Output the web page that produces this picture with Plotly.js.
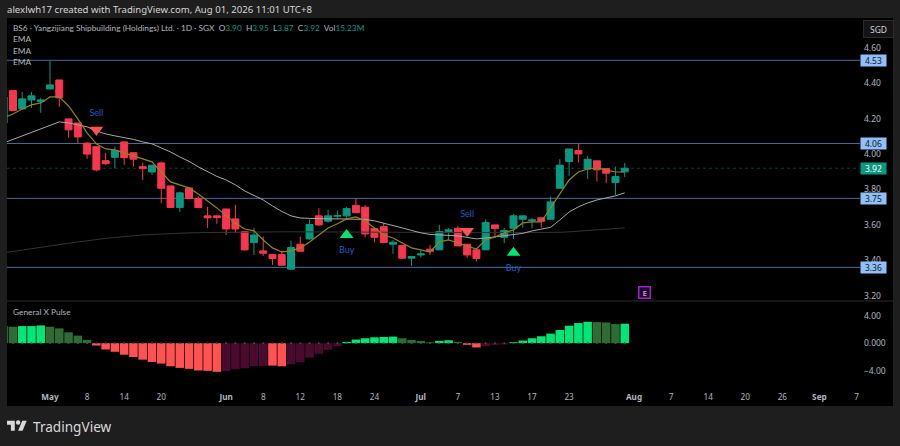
<!DOCTYPE html>
<html><head><meta charset="utf-8">
<script src="https://cdn.plot.ly/plotly-3.0.1.min.js"></script>
<style>html,body{margin:0;padding:0;background:#1e1e1e}#c{width:900px;height:446px}</style>
</head><body><div id="c"></div>
<script>
const open=[4.176,4.359,4.255,4.306,4.297,4.368,4.419,4.199,4.176,4.062,4.042,3.963,3.982,4.069,4.008,3.929,3.899,3.95,3.82,3.698,3.809,3.749,3.651,3.651,3.69,3.634,3.562,3.5,3.453,3.432,3.432,3.35,3.491,3.521,3.651,3.621,3.649,3.651,3.711,3.7,3.579,3.59,3.491,3.483,3.412,3.43,3.463,3.459,3.562,3.581,3.491,3.459,3.459,3.6,3.53,3.581,3.632,3.623,3.64,3.632,3.807,3.958,4.02,3.916,3.962,3.918,3.839,3.90];
const high=[4.323,4.359,4.351,4.351,4.318,4.527,4.419,4.199,4.176,4.069,4.042,4.007,4.042,4.069,4.008,3.952,3.939,3.958,3.82,3.788,3.809,3.76,3.702,3.651,3.69,3.713,3.562,3.583,3.534,3.436,3.455,3.511,3.534,3.632,3.694,3.685,3.681,3.702,3.751,3.713,3.579,3.61,3.515,3.483,3.425,3.459,3.487,3.6,3.583,3.594,3.491,3.47,3.632,3.6,3.583,3.662,3.651,3.638,3.64,3.76,3.971,4.029,4.058,3.99,3.962,3.918,3.929,3.95];
const low=[4.15,4.246,4.255,4.261,4.233,4.368,4.267,4.092,4.063,3.973,3.901,3.939,3.92,3.939,3.929,3.854,3.882,3.723,3.698,3.673,3.745,3.698,3.583,3.606,3.543,3.555,3.453,3.43,3.425,3.374,3.368,3.346,3.451,3.515,3.596,3.613,3.632,3.638,3.666,3.53,3.502,3.5,3.436,3.408,3.368,3.417,3.43,3.459,3.515,3.481,3.412,3.393,3.459,3.525,3.497,3.521,3.585,3.581,3.585,3.632,3.807,3.877,3.952,3.86,3.845,3.836,3.769,3.87];
const close=[4.323,4.246,4.312,4.329,4.306,4.391,4.318,4.137,4.097,4.0,3.911,3.946,4.02,3.98,3.971,3.918,3.937,3.807,3.698,3.781,3.749,3.698,3.64,3.641,3.577,3.577,3.459,3.543,3.44,3.41,3.372,3.472,3.451,3.602,3.6,3.651,3.653,3.692,3.669,3.549,3.53,3.5,3.502,3.412,3.421,3.436,3.451,3.562,3.572,3.481,3.43,3.41,3.613,3.579,3.568,3.651,3.651,3.628,3.621,3.73,3.937,4.029,4.001,3.971,3.911,3.892,3.873,3.92];
const emaFast=[4.205,4.227,4.255,4.278,4.289,4.323,4.323,4.272,4.199,4.12,4.058,4.029,4.024,4.007,3.99,3.973,3.956,3.899,3.843,3.826,3.809,3.775,3.736,3.696,3.651,3.611,3.577,3.566,3.515,3.47,3.447,3.453,3.47,3.504,3.543,3.583,3.606,3.634,3.645,3.623,3.583,3.543,3.526,3.498,3.47,3.459,3.447,3.504,3.515,3.498,3.481,3.464,3.515,3.532,3.555,3.572,3.611,3.617,3.617,3.696,3.769,3.854,3.899,3.916,3.922,3.911,3.899,3.899];
const emaMid=[4.063,4.083,4.103,4.12,4.142,4.159,4.182,4.176,4.165,4.154,4.131,4.114,4.103,4.094,4.083,4.069,4.058,4.035,4.012,3.984,3.959,3.928,3.899,3.874,3.854,3.826,3.792,3.767,3.741,3.707,3.676,3.651,3.639,3.637,3.634,3.634,3.634,3.634,3.634,3.631,3.623,3.611,3.597,3.583,3.569,3.555,3.546,3.543,3.543,3.538,3.529,3.521,3.526,3.532,3.541,3.546,3.552,3.566,3.574,3.586,3.628,3.673,3.702,3.724,3.741,3.752,3.764,3.781];
const emaSlow=[3.442,3.45,3.459,3.467,3.476,3.481,3.49,3.498,3.504,3.51,3.518,3.524,3.529,3.535,3.541,3.543,3.546,3.549,3.552,3.554,3.555,3.556,3.557,3.558,3.559,3.56,3.56,3.56,3.561,3.561,3.561,3.561,3.561,3.561,3.561,3.561,3.56,3.56,3.56,3.56,3.56,3.56,3.559,3.559,3.559,3.558,3.558,3.557,3.557,3.557,3.556,3.556,3.556,3.555,3.555,3.555,3.556,3.556,3.556,3.557,3.558,3.561,3.564,3.567,3.571,3.575,3.579,3.583];
const pulse=[2.49,2.4,2.49,2.49,2.59,2.4,2.16,1.58,1.1,0.48,-0.34,-0.91,-1.25,-1.68,-2.01,-2.4,-2.73,-2.97,-3.36,-3.6,-3.74,-3.98,-4.03,-4.17,-4.03,-3.79,-3.65,-3.36,-3.31,-3.26,-3.36,-3.07,-2.78,-2.11,-1.53,-0.96,-0.43,0.19,0.53,0.72,0.86,0.91,0.96,0.72,0.48,0.34,0.14,0.34,0.43,0.19,-0.24,-0.62,-0.43,-0.24,-0.19,0.14,0.38,0.72,1.01,1.39,1.92,2.54,2.93,3.12,3.07,3.02,2.78,2.83];
const pulseState="ddbbbdddddrrrrrrrrrrrrrrmmmmmrrmmmmmmbbbbbbddddbbdrrmmmbbbbbbbbbdddb".split("");
const levels=[4.53,4.06,3.75,3.36];
const lastPrice=3.92;
const priceTicks=[4.6,4.4,4.2,4.0,3.8,3.6,3.4,3.2];
const pulseTicks=[4,0,-4];
const pulseTickText=["4.00","0.000","\u22124.00"];
const timeTicks=[0,4,8,12,19,23,27,31,35,40,44,48,52,56,63,67,71,75,79,83,87];
const timeLabels=["<b>May</b>","8","14","20","<b>Jun</b>","8","12","18","24","<b>Jul</b>","7","13","17","23","<b>Aug</b>","7","14","20","26","<b>Sep</b>","7"];
const sellX=[5,45], sellPrice=[4.137,3.566], sellLabelPrice=[4.227,3.656];
const buyX=[32,50], buyPrice=[3.543,3.442], buyLabelPrice=[3.453,3.351];
const barIndex=open.map((_,k)=>k-5);

const FONT='"Noto Sans", sans-serif', LABEL='Lato, "Noto Sans", sans-serif';
const px=x=>(x-7)/853, py=y=>(406-y)/388;
const pulseColors={b:'#00e676',d:'#2f6b35',r:'#ff5252',m:'#4a0a2e'};
const TXT='#b2b5be';

const traces=[
 {type:'scatter',mode:'lines',x:barIndex,y:emaSlow,line:{color:'#333333',width:1},xaxis:'x',yaxis:'y',hoverinfo:'skip'},
 {type:'scatter',mode:'lines',x:barIndex,y:emaMid,line:{color:'#a8a8a8',width:1},xaxis:'x',yaxis:'y',hoverinfo:'skip'},
 {type:'candlestick',x:barIndex,open,high,low,close,xaxis:'x',yaxis:'y',whiskerwidth:0,
  increasing:{line:{color:'#089981',width:1},fillcolor:'#089981'},
  decreasing:{line:{color:'#f7374f',width:1},fillcolor:'#f7374f'},hoverinfo:'skip'},
 {type:'scatter',mode:'lines',x:barIndex,y:emaFast,line:{color:'#8f8420',width:1.2},xaxis:'x',yaxis:'y',hoverinfo:'skip'},
 {type:'scatter',mode:'markers',x:sellX,y:sellPrice,marker:{symbol:'triangle-down',size:12,color:'#ff5252'},xaxis:'x',yaxis:'y',hoverinfo:'skip'},
 {type:'scatter',mode:'markers',x:buyX,y:buyPrice,marker:{symbol:'triangle-up',size:12,color:'#00e676'},xaxis:'x',yaxis:'y',hoverinfo:'skip'},
 {type:'scatter',mode:'text',x:sellX,y:sellLabelPrice,text:sellX.map(()=> 'Sell'),textfont:{family:LABEL,size:9,color:'#2458c8'},xaxis:'x',yaxis:'y',hoverinfo:'skip'},
 {type:'scatter',mode:'text',x:buyX,y:buyLabelPrice,text:buyX.map(()=> 'Buy'),textfont:{family:LABEL,size:9,color:'#2458c8'},xaxis:'x',yaxis:'y',hoverinfo:'skip'},
 {type:'bar',x:barIndex,y:pulse,marker:{color:pulseState.map(s=>pulseColors[s]),line:{width:0}},xaxis:'x',yaxis:'y2',hoverinfo:'skip'},
 {type:'scatter',mode:'markers',x:barIndex,y:barIndex.map(()=>0),marker:{size:2,color:'#4a4a4a'},xaxis:'x',yaxis:'y2',hoverinfo:'skip'}
];

const ann=(x,y,text,o={})=>Object.assign({xref:'paper',yref:'paper',x:px(x),y:py(y),text,showarrow:false,xanchor:'left',yanchor:'middle',font:{family:LABEL,size:8.3,color:TXT}},o);
const g=s=>`<span style="color:#089981">${s}</span>`;
const priceBox=(p,bg,fg)=>({xref:'paper',yref:'y',x:px(860),y:p,text:p.toFixed(2),showarrow:false,xanchor:'left',yanchor:'middle',width:25,height:11,bgcolor:bg,borderpad:0,font:{family:FONT,size:8.5,color:fg}});
const sp='\u00a0 ';

const annotations=[
 ann(5,9,'alexlwh17 created with TradingView.com, Aug 01, 2026 11:01 UTC+8',{font:{family:FONT,size:9.6,color:'#d6d6d6'}}),
 ann(10.5,28,'BS6 · Yangzijiang Shipbuilding (Holdings) Ltd. · 1D · SGX'+sp+'O'+g('3.90')+sp+'H'+g('3.95')+sp+'L'+g('3.87')+sp+'C'+g('3.92')+sp+'Vol'+g('15.23M')),
 ann(10.5,39,'EMA'),ann(10.5,50.5,'EMA'),ann(10.5,62,'EMA'),
 ann(10.5,311.5,'General X Pulse'),
 ...levels.map(l=>priceBox(l,'#90bff9','#131722')),
 priceBox(lastPrice,'#089981','#ffffff'),
 ann(863,29,'SGD',{width:29,height:16,bgcolor:'#141414',bordercolor:'#2a2a2a',borderwidth:1,borderpad:0,xanchor:'left',align:'center',font:{family:FONT,size:8.5,color:'#d1d4dc'}}),
 ann(644,293,'<b>E</b>',{xanchor:'center',width:10,height:10,bgcolor:'#1c0524',bordercolor:'#a11fc4',borderwidth:1.5,borderpad:0,font:{family:FONT,size:7.5,color:'#d27ae8'}}),
 ann(31,426.5,'TradingView',{font:{family:FONT,size:13.6,color:'#d9d9d9'}})
];

const shapes=[
 {type:'rect',xref:'paper',yref:'paper',x0:0,x1:px(893),y0:py(406),y1:py(18),fillcolor:'#000000',line:{width:0},layer:'below'},
 ...levels.map(l=>({type:'line',xref:'paper',yref:'y',x0:0,x1:1,y0:l,y1:l,line:{color:'#4e6c92',width:1},layer:'below'})),
 {type:'line',xref:'paper',yref:'y',x0:0,x1:1,y0:lastPrice,y1:lastPrice,line:{color:'#0b3d30',width:1,dash:'dot'},layer:'below'},
 {type:'line',xref:'paper',yref:'paper',x0:0,x1:px(893),y0:py(301),y1:py(301),line:{color:'#2a2a2a',width:1}}
];

const logo='data:image/svg+xml;utf8,'+encodeURIComponent('<svg xmlns="http://www.w3.org/2000/svg" viewBox="0 0 36 28"><path fill="#d9d9d9" d="M14 22H7V11H0V4h14v18zM28 22h-8l7.5-18h8L28 22z"/><circle fill="#d9d9d9" cx="20" cy="7" r="4"/></svg>');

const layout={
 width:900,height:446,showlegend:false,
 paper_bgcolor:'#1e1e1e',plot_bgcolor:'rgba(0,0,0,0)',
 margin:{l:7,r:40,t:18,b:40,pad:0},
 boxmode:'overlay',boxgap:0.25,boxgroupgap:0,bargap:0.08,
 font:{family:FONT,size:8.5,color:TXT},
 xaxis:{type:'linear',domain:[0,1],anchor:'y2',range:[-4.64,87.38],rangeslider:{visible:false},showgrid:false,zeroline:false,showline:false,
  tickmode:'array',tickvals:timeTicks,ticktext:timeLabels,ticks:'',tickfont:{family:FONT,size:8.2,color:TXT},ticklabelstandoff:6},
 yaxis:{domain:[py(301),1],range:[3.17,4.769],side:'right',anchor:'x',showgrid:false,zeroline:false,showline:false,
  tickmode:'array',tickvals:priceTicks,ticktext:priceTicks.map(v=>v.toFixed(2)),ticks:'',tickfont:{family:FONT,size:8.5,color:TXT},ticklabelstandoff:3},
 yaxis2:{domain:[py(385),py(302)],range:[-6.09,6.0],side:'right',anchor:'x',showgrid:false,zeroline:false,showline:false,
  tickmode:'array',tickvals:pulseTicks,ticktext:pulseTickText,ticks:'',tickfont:{family:FONT,size:8.5,color:TXT},ticklabelstandoff:3},
 shapes,annotations,
 images:[{source:logo,xref:'paper',yref:'paper',x:px(7),y:py(418.5),sizex:20/853,sizey:15.6/388,xanchor:'left',yanchor:'top',sizing:'stretch',layer:'above'}]
};
Plotly.newPlot('c',traces,layout,{displayModeBar:false,staticPlot:true});
</script></body></html>
